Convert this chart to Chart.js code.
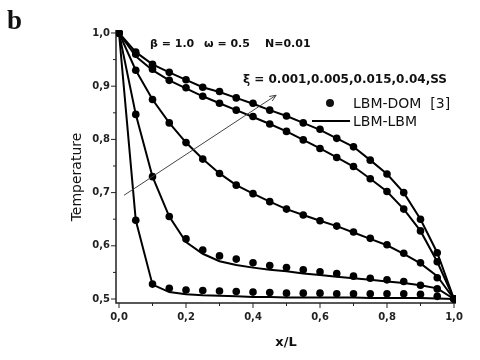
<!DOCTYPE html>
<html>
<head>
<meta charset="utf-8">
<script src="https://cdn.jsdelivr.net/npm/chart.js@4.4.1/dist/chart.umd.min.js"></script>
<style>
  html, body { margin: 0; padding: 0; background: #fff; }
  #wrap { width: 480px; height: 360px; position: relative; }
</style>
</head>
<body>
<div id="wrap"><canvas id="c"></canvas></div>
<script>
// x/L positions of the LBM-DOM dots and of the LBM-LBM line nodes
const XS = [0, 0.05, 0.1, 0.15, 0.2, 0.25, 0.3, 0.35, 0.4, 0.45, 0.5,
            0.55, 0.6, 0.65, 0.7, 0.75, 0.8, 0.85, 0.9, 0.95, 1.0];

// LBM-DOM [3] (dots), one per xi
const DOM_001 = [1.0, 0.648, 0.528, 0.520, 0.517, 0.516, 0.515, 0.514, 0.513, 0.512, 0.511,
                 0.511, 0.511, 0.510, 0.510, 0.510, 0.510, 0.510, 0.509, 0.505, 0.5];
const DOM_005 = [1.0, 0.847, 0.730, 0.655, 0.613, 0.592, 0.581, 0.575, 0.568, 0.563, 0.559,
                 0.555, 0.551, 0.548, 0.543, 0.539, 0.536, 0.533, 0.526, 0.519, 0.5];
const DOM_015 = [1.0, 0.930, 0.875, 0.831, 0.794, 0.763, 0.736, 0.714, 0.698, 0.683, 0.669,
                 0.658, 0.647, 0.637, 0.626, 0.614, 0.602, 0.586, 0.568, 0.540, 0.5];
const DOM_04  = [1.0, 0.960, 0.932, 0.911, 0.897, 0.881, 0.868, 0.855, 0.843, 0.829, 0.815,
                 0.799, 0.783, 0.766, 0.749, 0.726, 0.702, 0.669, 0.628, 0.570, 0.5];
const DOM_SS  = [1.0, 0.964, 0.941, 0.926, 0.912, 0.898, 0.890, 0.878, 0.868, 0.855, 0.844,
                 0.831, 0.819, 0.802, 0.786, 0.761, 0.735, 0.700, 0.650, 0.587, 0.5];

// LBM-LBM (lines)
const LBM_001 = [1.0, 0.648, 0.527, 0.513, 0.509, 0.507, 0.506, 0.505, 0.504, 0.504, 0.503,
                 0.503, 0.503, 0.503, 0.503, 0.502, 0.502, 0.502, 0.502, 0.501, 0.5];
const LBM_005 = [1.0, 0.847, 0.730, 0.655, 0.607, 0.585, 0.571, 0.564, 0.559, 0.555, 0.552,
                 0.548, 0.545, 0.542, 0.539, 0.536, 0.533, 0.530, 0.526, 0.520, 0.5];
const LBM_015 = [1.0, 0.930, 0.875, 0.831, 0.794, 0.763, 0.736, 0.714, 0.698, 0.683, 0.669,
                 0.658, 0.647, 0.637, 0.625, 0.613, 0.601, 0.585, 0.567, 0.543, 0.5];
const LBM_04  = [1.0, 0.956, 0.930, 0.911, 0.896, 0.881, 0.868, 0.855, 0.842, 0.829, 0.815,
                 0.799, 0.783, 0.766, 0.749, 0.726, 0.702, 0.669, 0.628, 0.570, 0.5];
const LBM_SS  = [1.0, 0.964, 0.941, 0.926, 0.912, 0.898, 0.889, 0.878, 0.867, 0.855, 0.844,
                 0.831, 0.818, 0.802, 0.786, 0.761, 0.735, 0.700, 0.650, 0.587, 0.5];

const X_TICKS = [0, 0.2, 0.4, 0.6, 0.8, 1.0];
const X_MINOR = [0.1, 0.3, 0.5, 0.7, 0.9];
const Y_TICKS = [0.5, 0.6, 0.7, 0.8, 0.9, 1.0];
const Y_MINOR = [0.55, 0.65, 0.75, 0.85, 0.95];

// arrow across the curves (direction of increasing xi), in data units
const ARROW_FROM = [0.015, 0.695];
const ARROW_TO = [0.469, 0.883];

const pts = ys => XS.map((x, i) => ({ x: x, y: ys[i] }));
const dotSet = ys => ({ type: 'scatter', data: pts(ys), showLine: false, pointRadius: 3.8,
  pointBackgroundColor: '#000', pointBorderWidth: 0 });
const lineSet = ys => ({ type: 'line', data: pts(ys), borderColor: '#000', borderWidth: 2,
  pointRadius: 0, fill: false, tension: 0 });

const fmt = v => v.toFixed(1).replace('.', ',');

// axis lines + outward ticks, origin style
const axesPlugin = {
  id: 'axes',
  beforeDatasetsDraw(chart) {
    const { ctx, chartArea: a, scales: { x, y } } = chart;
    ctx.save();
    ctx.strokeStyle = '#222';
    ctx.lineWidth = 1.5;
    ctx.beginPath();
    ctx.moveTo(a.left, a.top); ctx.lineTo(a.left, a.bottom); ctx.lineTo(a.right, a.bottom);
    ctx.stroke();
    ctx.lineWidth = 1;
    ctx.beginPath();
    X_TICKS.forEach(v => { const p = x.getPixelForValue(v); ctx.moveTo(p, a.bottom); ctx.lineTo(p, a.bottom + 5); });
    X_MINOR.forEach(v => { const p = x.getPixelForValue(v); ctx.moveTo(p, a.bottom); ctx.lineTo(p, a.bottom + 3); });
    Y_TICKS.forEach(v => { const p = y.getPixelForValue(v); ctx.moveTo(a.left, p); ctx.lineTo(a.left - 5, p); });
    Y_MINOR.forEach(v => { const p = y.getPixelForValue(v); ctx.moveTo(a.left, p); ctx.lineTo(a.left - 3, p); });
    ctx.stroke();
    ctx.restore();
  }
};

// annotations: arrow, parameter text, legend, panel letter, y title
const notesPlugin = {
  id: 'notes',
  afterDraw(chart) {
    const { ctx, scales: { x, y } } = chart;
    ctx.save();
    // arrow
    const x1 = x.getPixelForValue(ARROW_FROM[0]), y1 = y.getPixelForValue(ARROW_FROM[1]);
    const x2 = x.getPixelForValue(ARROW_TO[0]), y2 = y.getPixelForValue(ARROW_TO[1]);
    ctx.strokeStyle = '#444'; ctx.lineWidth = 1;
    ctx.beginPath(); ctx.moveTo(x1, y1); ctx.lineTo(x2, y2); ctx.stroke();
    const ang = Math.atan2(y2 - y1, x2 - x1);
    ctx.beginPath();
    ctx.moveTo(x2 - 7 * Math.cos(ang - 0.4), y2 - 7 * Math.sin(ang - 0.4));
    ctx.lineTo(x2, y2);
    ctx.lineTo(x2 - 7 * Math.cos(ang + 0.4), y2 - 7 * Math.sin(ang + 0.4));
    ctx.stroke();

    ctx.fillStyle = '#111';
    ctx.textBaseline = 'alphabetic';
    ctx.font = 'bold 27px "Liberation Serif"';
    ctx.fillText('b', 7, 29);

    ctx.font = 'bold 11px "DejaVu Sans"';
    ctx.fillText('β = 1.0', 150, 47);
    ctx.fillText('ω = 0.5', 204, 47);
    ctx.fillText('N=0.01', 265, 47);

    ctx.font = 'bold 12px "DejaVu Sans"';
    ctx.fillText('ξ = 0.001,0.005,0.015,0.04,SS', 243, 83);

    // legend
    ctx.beginPath(); ctx.arc(330, 103, 4, 0, Math.PI * 2); ctx.fill();
    ctx.strokeStyle = '#000'; ctx.lineWidth = 2;
    ctx.beginPath(); ctx.moveTo(312, 121); ctx.lineTo(350, 121); ctx.stroke();
    ctx.font = '14px "DejaVu Sans"';
    ctx.fillText('LBM-DOM  [3]', 353, 108);
    ctx.fillText('LBM-LBM', 353, 126);

    // y title
    ctx.translate(77, 177);
    ctx.rotate(-Math.PI / 2);
    ctx.textAlign = 'center'; ctx.textBaseline = 'middle';
    ctx.font = '14px "DejaVu Sans"';
    ctx.fillText('Temperature', 0, 0);
    ctx.restore();
  }
};

new Chart(document.getElementById('c'), {
  data: {
    datasets: [
      dotSet(DOM_001), dotSet(DOM_005), dotSet(DOM_015), dotSet(DOM_04), dotSet(DOM_SS),
      lineSet(LBM_001), lineSet(LBM_005), lineSet(LBM_015), lineSet(LBM_04), lineSet(LBM_SS)
    ]
  },
  options: {
    responsive: true, maintainAspectRatio: false, animation: false,
    layout: { padding: { left: 0, right: 24, top: 30, bottom: 0 } },
    plugins: { legend: { display: false }, tooltip: { enabled: false } },
    scales: {
      x: {
        type: 'linear', min: -0.009, max: 1.006,
        afterBuildTicks: s => { s.ticks = X_TICKS.map(v => ({ value: v })); },
        afterFit: s => { s.height = 57; },
        grid: { display: false, drawTicks: false },
        border: { display: false },
        ticks: { callback: fmt, padding: 8, maxRotation: 0, color: '#222',
                 font: { family: 'DejaVu Sans', size: 10, weight: 'bold' } },
        title: { display: true, text: 'x/L', color: '#111', padding: { top: 0, bottom: 10 },
                 font: { family: 'DejaVu Sans', size: 13, weight: 'bold' } }
      },
      y: {
        type: 'linear', min: 0.4925, max: 1.0056,
        afterBuildTicks: s => { s.ticks = Y_TICKS.map(v => ({ value: v })); },
        afterFit: s => { s.width = 116; },
        grid: { display: false, drawTicks: false },
        border: { display: false },
        ticks: { callback: fmt, padding: 6, color: '#222',
                 font: { family: 'DejaVu Sans', size: 10, weight: 'bold' } }
      }
    }
  },
  plugins: [axesPlugin, notesPlugin]
});
</script>
</body>
</html>
